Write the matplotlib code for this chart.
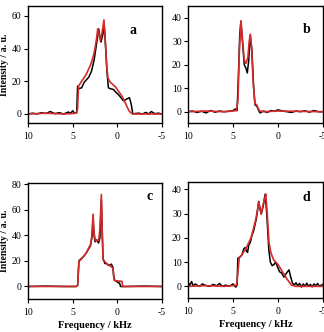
import numpy as np
import matplotlib
matplotlib.use("Agg")
import matplotlib.pyplot as plt

plt.rcParams['font.family'] = ['Liberation Serif', 'DejaVu Serif']

# panel a
fa_exp = [10, 9.5, 9, 8.5, 8, 7.5, 7, 6.5, 6, 5.5, 5.2, 5.0, 4.8, 4.55, 4.45, 4.3, 4.0, 3.7, 3.44, 3.2, 2.9, 2.6, 2.35, 2.09, 1.95, 1.83, 1.65, 1.45, 1.3, 1.15, 1.0, 0.8, 0.44, 0.2, -0.1, -0.4, -0.7, -1.0, -1.36, -1.55, -1.74, -2.0, -2.4, -2.8, -3.2, -3.5, -3.8, -4.2, -4.6, -5]
ia_exp = [0.0, 0.5, 0.0, 0.8, 0.3, 1.5, 0.2, 0.8, 0.0, 1.2, 0.5, 2.0, 0.5, 0.8, 17.0, 15.5, 16.0, 19.5, 21.0, 22.5, 26.0, 33.0, 42.0, 52.0, 47.0, 44.0, 48.0, 53.0, 40.0, 25.0, 16.0, 15.5, 15.0, 13.5, 12.0, 10.0, 8.0, 9.0, 10.0, 6.0, 0.0, 0.3, 0.5, 0.0, 1.0, 0.0, 1.5, 0.2, 0.5, 0.0]
fa_sim = [10, 8, 6, 5.0, 4.6, 4.45, 4.35, 4.0, 3.5, 3.0, 2.7, 2.5, 2.3, 2.2, 2.05, 1.9, 1.7, 1.5, 1.35, 1.2, 1.05, 0.8, 0.5, 0.2, 0.0, -0.5, -0.8, -1.0, -1.3, -1.6, -2.0, -5]
ia_sim = [0.0, 0.5, 0.0, 0.3, 0.5, 3.0, 17.0, 20.0, 24.0, 30.0, 35.0, 40.0, 47.0, 52.0, 49.0, 45.0, 50.0, 57.5, 45.0, 30.0, 22.0, 19.5, 18.0, 16.5, 15.0, 11.0, 8.0, 5.5, 2.0, 0.3, 0.0, 0.0]

# panel b
fb_exp = [10, 9.5, 9, 8.5, 8, 7.5, 7, 6.5, 6, 5.5, 5.0, 4.7, 4.55, 4.4, 4.25, 4.12, 3.95, 3.75, 3.56, 3.41, 3.25, 3.08, 2.9, 2.7, 2.56, 2.4, 2.3, 2.15, 2.0, 1.6, 1.2, 0.8, 0.4, 0.0, -0.5, -1.0, -1.5, -2.0, -2.5, -3.0, -3.5, -4.0, -4.5, -5]
ib_exp = [0.0, 0.3, -0.3, 0.2, -0.5, 0.5, -0.2, 0.3, 0.0, 0.2, 0.5, 1.2, 0.5, 15.0, 33.0, 38.5, 30.0, 20.0, 18.5, 16.5, 22.0, 32.5, 26.0, 10.0, 3.0, 2.5, 2.0, 0.5, -0.5, 0.3, -0.3, 0.5, 0.2, 0.8, 0.3, 0.0, -0.3, 0.3, 0.0, 0.4, -0.2, 0.5, 0.0, 0.0]
fb_sim = [10, 8, 6, 5.0, 4.6, 4.45, 4.3, 4.12, 3.95, 3.75, 3.56, 3.35, 3.2, 3.08, 2.95, 2.75, 2.56, 2.35, 2.2, 2.05, 1.5, 0, -5]
ib_sim = [0.0, 0.3, 0.0, 0.3, 0.5, 5.0, 25.0, 38.7, 31.0, 22.0, 20.6, 23.0, 30.0, 33.0, 28.0, 12.0, 3.5, 2.8, 1.5, 0.3, 0.0, 0.3, 0.0]

# panel c
fc_exp = [10, 8, 6, 4.6, 4.44, 4.3, 4.1, 3.96, 3.5, 3.0, 2.85, 2.72, 2.6, 2.5, 2.3, 2.1, 1.95, 1.79, 1.68, 1.6, 1.4, 1.2, 1.0, 0.8, 0.67, 0.5, 0.4, 0.3, 0.1, -0.1, -0.26, -0.35, -1, -3, -5]
ic_exp = [0.0, 0.3, 0.0, 0.0, 1.0, 20.0, 21.5, 22.0, 26.0, 32.0, 38.0, 52.0, 40.0, 35.0, 36.5, 34.0, 38.0, 68.0, 40.0, 22.0, 18.0, 18.0, 16.5, 17.0, 17.5, 15.0, 8.0, 5.0, 4.0, 3.0, 2.6, 0.0, 0.0, 0.3, 0.0]
fc_sim = [10, 8, 6, 4.6, 4.44, 4.3, 3.96, 3.5, 3.0, 2.85, 2.72, 2.6, 2.46, 2.09, 1.95, 1.79, 1.68, 1.6, 1.2, 0.8, 0.5, 0.41, 0.35, -0.52, -0.6, -5]
ic_sim = [0.0, 0.0, 0.0, 0.0, 1.0, 19.5, 22.0, 26.0, 33.0, 40.0, 56.6, 42.0, 36.0, 36.0, 45.0, 72.0, 40.0, 21.0, 18.0, 16.0, 14.5, 8.0, 4.7, 4.0, 0.0, 0.0]

# panel d
fd_exp = [10, 9.8, 9.6, 9.4, 9.2, 9.0, 8.7, 8.4, 8.0, 7.6, 7.2, 6.8, 6.5, 6.2, 5.8, 5.4, 5.0, 4.7, 4.55, 4.46, 4.25, 4.0, 3.8, 3.64, 3.5, 3.38, 3.25, 3.08, 2.9, 2.7, 2.4, 2.14, 2.0, 1.84, 1.65, 1.43, 1.25, 1.02, 0.85, 0.65, 0.45, 0.27, 0.05, -0.18, -0.4, -0.66, -0.95, -1.22, -1.4, -1.6, -1.8, -2.0, -2.2, -2.4, -2.6, -2.8, -3.0, -3.2, -3.4, -3.6, -3.8, -4.0, -4.2, -4.4, -4.6, -4.8, -5]
id_exp = [1.5, 0.5, 2.0, 0.0, 1.0, 0.5, 0.0, 1.0, 0.3, 0.0, 0.8, 0.2, 1.2, 0.0, 0.5, 0.0, 1.0, -0.3, 0.5, 11.6, 12.0, 13.0, 15.5, 16.0, 14.5, 14.0, 17.0, 18.0, 21.0, 23.0, 28.0, 35.0, 32.0, 30.0, 33.0, 38.0, 30.0, 15.0, 10.0, 8.5, 9.0, 10.0, 8.0, 6.0, 5.5, 3.8, 5.5, 6.8, 4.0, 1.4, 0.5, 1.5, 0.2, 1.2, -0.3, 1.0, 0.0, 1.3, 0.0, 0.8, -0.2, 1.0, 0.2, 1.2, 0.0, 0.5, 0.8]
fd_sim = [10, 8, 6, 5.0, 4.6, 4.5, 4.3, 4.0, 3.5, 3.0, 2.5, 2.3, 2.14, 2.0, 1.88, 1.7, 1.5, 1.36, 1.2, 1.0, 0.8, 0.5, 0.0, -0.5, -1.0, -1.5, -2.0, -5]
id_sim = [0.0, 0.3, 0.0, 0.3, 0.5, 4.0, 12.0, 13.0, 16.0, 20.0, 27.0, 31.0, 34.6, 32.0, 29.7, 33.0, 36.0, 38.0, 30.0, 18.0, 14.0, 11.0, 9.0, 6.0, 3.0, 0.5, 0.0, 0.0]

panels = [
    ("a", fa_exp, ia_exp, fa_sim, ia_sim, (-5.5, 66), [0, 20, 40, 60]),
    ("b", fb_exp, ib_exp, fb_sim, ib_sim, (-4.8, 45), [0, 10, 20, 30, 40]),
    ("c", fc_exp, ic_exp, fc_sim, ic_sim, (-9.8, 81), [0, 20, 40, 60, 80]),
    ("d", fd_exp, id_exp, fd_sim, id_sim, (-4.8, 43), [0, 10, 20, 30, 40]),
]

W, H = 324, 332
boxes = [(28, 6, 134, 117), (188, 6, 135, 117), (28, 183, 134, 116), (188, 182, 135, 116)]
letter_pos = [(0.78, 0.79), (0.88, 0.80), (0.91, 0.88), (0.88, 0.87)]

fig = plt.figure(figsize=(W / 100, H / 100), dpi=100)
red = '#d42a2a'

for i, (lab, fe, ie, fs, isim, ylim, yt) in enumerate(panels):
    x0, y0, w, h = boxes[i]
    ax = fig.add_axes([x0 / W, 1 - (y0 + h) / H, w / W, h / H])
    ax.plot(fe, ie, color='black', lw=1.1)
    ax.plot(fs, isim, color=red, lw=1.2)
    ax.set_xlim(10, -5)
    ax.set_ylim(*ylim)
    ax.set_xticks([10, 5, 0, -5])
    ax.set_xticklabels(['10', '5', '0', '-5'])
    ax.set_yticks(yt)
    ax.tick_params(direction='out', length=3, width=0.8, labelsize=7, pad=1.5)
    ax.tick_params(axis='x', pad=3.5)
    for s in ax.spines.values():
        s.set_linewidth(1.0)
    lx, ly = letter_pos[i]
    ax.text(lx, ly, lab, transform=ax.transAxes, fontsize=10, fontweight='bold',
            ha='center', va='center')
    if i % 2 == 0:
        ax.set_ylabel('Intensity / a. u.', fontsize=7, fontweight='bold', labelpad=2)
    if i >= 2:
        ax.set_xlabel('Frequency / kHz', fontsize=7.5, fontweight='bold', labelpad=3)

fig.savefig('out.png', dpi=100)
